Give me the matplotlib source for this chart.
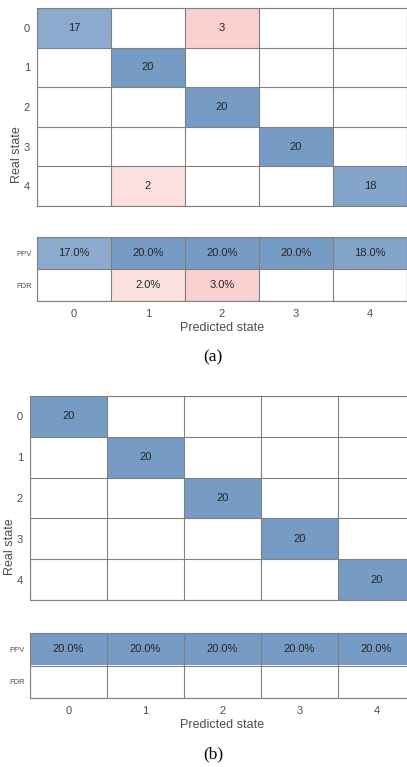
import numpy as np
import matplotlib
matplotlib.use('Agg')
import matplotlib.pyplot as plt

plt.rcParams['font.family'] = ['Liberation Sans', 'DejaVu Sans']

# class labels shared by both confusion charts
states = [0, 1, 2, 3, 4]

# (a) counts, rows = real state, columns = predicted state
conf_a = [[17, 0, 3, 0, 0],
          [0, 20, 0, 0, 0],
          [0, 0, 20, 0, 0],
          [0, 0, 0, 20, 0],
          [0, 2, 0, 0, 18]]
ppv_a = [17.0, 20.0, 20.0, 20.0, 18.0]
fdr_a = [0.0, 2.0, 3.0, 0.0, 0.0]

# (b) counts
conf_b = [[20, 0, 0, 0, 0],
          [0, 20, 0, 0, 0],
          [0, 0, 20, 0, 0],
          [0, 0, 0, 20, 0],
          [0, 0, 0, 0, 20]]
ppv_b = [20.0, 20.0, 20.0, 20.0, 20.0]
fdr_b = [0.0, 0.0, 0.0, 0.0, 0.0]

BLUE = np.array([63, 115, 173]) / 255.
RED = np.array([240, 96, 96]) / 255.
GRID = '#808080'
TXT = '#262626'
TICK = '#4d4d4d'


def shade(base, a):
    return 1.0 - a * (1.0 - base)


def blue(v):
    return shade(BLUE, 0.71 * v / 20.0) if v > 0 else np.ones(3)


def red(v):
    return shade(RED, 0.1 * v) if v > 0 else np.ones(3)


def draw_cells(ax, rgb, labels):
    nr, nc = rgb.shape[:2]
    ax.imshow(rgb, extent=(-0.5, nc - 0.5, nr - 0.5, -0.5),
              aspect='auto', interpolation='nearest')
    for i in range(nr + 1):
        ax.axhline(i - 0.5, color=GRID, lw=0.8)
    for j in range(nc + 1):
        ax.axvline(j - 0.5, color=GRID, lw=0.8)
    for (i, j), s in labels.items():
        ax.text(j, i, s, ha='center', va='center', fontsize=8, color=TXT)
    for sp in ax.spines.values():
        sp.set_color(GRID)
        sp.set_linewidth(0.8)
    ax.tick_params(length=0, colors=TICK, labelsize=8)


def panel(fig, conf, ppv, fdr, mrect, srect, tag, ylab_x):
    conf = np.array(conf)
    n = len(states)
    ax = fig.add_axes(mrect)
    rgb = np.ones((n, n, 3))
    labels = {}
    for i in range(n):
        for j in range(n):
            v = conf[i, j]
            rgb[i, j] = blue(v) if i == j else red(v)
            if v:
                labels[(i, j)] = str(v)
    draw_cells(ax, rgb, labels)
    ax.set_xticks([])
    ax.set_yticks(range(n))
    ax.set_yticklabels(states)
    ax.tick_params(axis='y', pad=5)
    ax.set_xlim(-0.5, n - 0.5)
    ax.set_ylim(n - 0.5, -0.5)

    sx = fig.add_axes(srect)
    srgb = np.ones((2, n, 3))
    slab = {}
    for j in range(n):
        srgb[0, j] = blue(ppv[j])
        srgb[1, j] = red(fdr[j])
        if ppv[j]:
            slab[(0, j)] = f'{ppv[j]:.1f}%'
        if fdr[j]:
            slab[(1, j)] = f'{fdr[j]:.1f}%'
    draw_cells(sx, srgb, slab)
    sx.set_xticks(range(n))
    sx.set_xticklabels(states)
    sx.set_yticks([0, 1])
    sx.set_yticklabels(['PPV', 'FDR'], fontsize=5.5)
    sx.set_xlim(-0.5, n - 0.5)
    sx.set_ylim(1.5, -0.5)
    sx.tick_params(axis='x', pad=6)
    sx.set_xlabel('Predicted state', fontsize=9, color=TICK, labelpad=2)

    # y label centred over matrix and summary rows
    top = mrect[1] + mrect[3]
    bot = srect[1]
    fig.text(ylab_x, (top + bot) / 2, 'Real state', rotation=90,
             ha='center', va='center', fontsize=9, color=TICK)
    fig.text(0.523, srect[1] - 56 / H, tag, ha='center', va='center',
             fontsize=12.5, family='Liberation Serif', color='black')


H = 767.
W = 407.
fig = plt.figure(figsize=(W / 100, H / 100), dpi=100)

panel(fig, conf_a, ppv_a, fdr_a,
      [37 / W, 1 - 206 / H, 370 / W, 198 / H],
      [37 / W, 1 - 301 / H, 370 / W, 64 / H],
      '(a)', 17 / W)
panel(fig, conf_b, ppv_b, fdr_b,
      [30 / W, 1 - 600 / H, 385 / W, 204 / H],
      [30 / W, 1 - 698 / H, 385 / W, 65 / H],
      '(b)', 10 / W)

fig.savefig('out.png', dpi=100)
